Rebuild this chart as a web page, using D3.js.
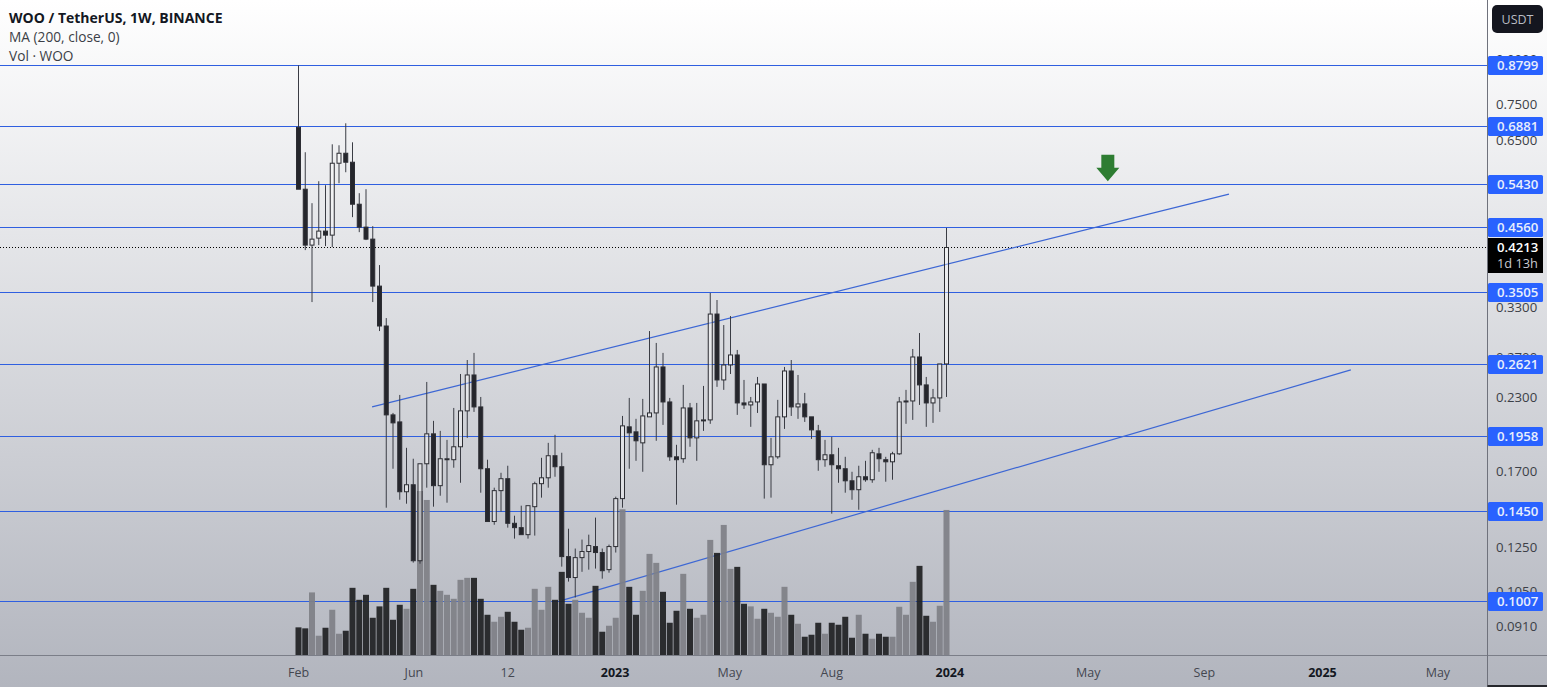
<!DOCTYPE html>
<html>
<head>
<meta charset="utf-8">
<script src="https://cdn.jsdelivr.net/npm/d3@7"></script>
<style>
  html, body { margin: 0; padding: 0; overflow: hidden; background: #fff; }
  text { font-family: "Open Sans", "Noto Sans", sans-serif; }
</style>
</head>
<body>
<div id="chart"></div>
<script>
// weekly WOO/USDT candles, first candle is the week of 14 Feb 2022
const opens = [.6850,.5333,.4254,.4376,.4502,.4429,.5924,.6168,.5948,.5019,.4575,.4358,.3604,.3067,.2141,.2081,.1569,.1614,.1187,.1757,.1983,.1608,.1793,.1786,.1882,.2176,.2516,.2211,.1722,.1391,.1576,.1654,.1381,.1357,.1319,.1477,.1621,.1660,.1815,.1736,.1207,.1109,.1202,.1232,.1257,.1227,.1145,.1257,.1526,.2040,.1999,.1912,.2124,.2158,.2599,.2256,.1807,.1793,.2202,.1951,.2098,.2098,.3219,.2466,.2620,.2728,.2247,.2229,.2256,.2426,.1750,.1807,.2124,.2557,.2211,.2238,.2124,.2007,.1786,.1822,.1743,.1722,.1640,.1582,.1667,.1647,.1829,.1786,.1771,.1829,.2265,.2265,.2706,.2417,.2247,.2293,.2631];
const highs = [.8799,.6193,.5040,.5508,.5420,.6395,.6370,.6962,.6447,.5248,.5333,.4593,.3924,.3167,.2158,.2321,.1874,.1793,.1757,.2446,.2090,.2007,.1935,.2202,.2526,.2673,.2751,.2302,.1786,.1595,.1694,.1743,.1424,.1483,.1483,.1634,.1800,.1912,.1975,.1837,.1351,.1247,.1293,.1319,.1413,.1247,.1267,.1538,.2132,.2293,.2107,.2284,.3005,.2864,.2751,.2293,.1897,.2417,.2247,.2247,.2407,.3505,.3407,.3079,.3193,.2784,.2466,.2302,.2496,.2426,.1951,.2275,.2599,.2673,.2516,.2340,.2124,.2056,.1935,.1959,.1874,.1807,.1701,.1743,.1778,.1859,.1874,.1807,.1844,.2302,.2369,.2795,.2981,.2496,.2378,.2631,.4560];
const lows = [.5333,.4169,.3379,.4254,.4237,.4220,.5464,.5712,.4763,.4483,.4341,.3379,.3005,.1471,.1722,.1519,.1495,.1178,.1173,.1595,.1477,.1544,.1501,.1729,.1627,.1951,.2167,.1563,.1391,.1373,.1448,.1357,.1298,.1319,.1298,.1314,.1532,.1595,.1667,.1159,.1091,.1023,.1135,.1145,.1150,.1104,.1131,.1227,.1471,.1722,.1778,.1701,.2124,.1928,.2056,.1778,.1489,.1764,.1882,.1778,.2007,.2065,.2398,.2369,.2526,.2141,.2193,.2040,.2158,.1526,.1532,.1793,.2023,.2132,.2107,.2081,.1943,.1708,.1736,.1436,.1627,.1563,.1519,.1459,.1634,.1627,.1701,.1634,.1647,.1822,.2065,.2098,.2229,.2040,.2073,.2167,.2302];
const closes = [.5333,.4254,.4358,.4502,.4429,.5924,.6168,.5948,.5019,.4575,.4358,.3604,.3067,.2141,.2073,.1569,.1614,.1187,.1757,.1983,.1608,.1793,.1793,.1882,.2176,.2516,.2211,.1722,.1391,.1576,.1654,.1381,.1357,.1319,.1483,.1621,.1660,.1815,.1736,.1207,.1109,.1202,.1232,.1262,.1227,.1140,.1257,.1526,.2048,.1991,.1928,.2132,.2158,.2599,.2256,.1807,.1786,.2202,.1951,.2090,.2098,.3219,.2466,.2620,.2728,.2247,.2229,.2256,.2426,.1750,.1807,.2124,.2557,.2211,.2238,.2124,.2015,.1786,.1822,.1750,.1722,.1640,.1582,.1667,.1647,.1837,.1793,.1771,.1829,.2256,.2265,.2706,.2417,.2247,.2293,.2631,.4213];
const volumes = [27.7,26.7,62.7,19.3,27.3,45.3,21.3,24.3,67.3,55.3,60.3,37.3,48.7,67.3,35.3,50.3,46.3,66.3,164.3,155.3,70.3,64.3,60.3,56.3,75.3,77.3,77.3,56.3,40.3,33.3,38.3,43.3,33.3,25.3,27.3,66.3,45.3,68.3,55.3,83.3,51.3,55.3,42.3,37.3,69.3,23.3,29.3,37.3,146,68.3,40.3,64.3,101.3,92.3,63.3,32.3,44.3,81.3,46.3,37.3,40.3,115.3,102.3,130.3,86.3,88.3,51.3,48.7,36.3,46.3,42.3,38.3,68.3,40.3,31.3,18.3,20.3,32.3,21.3,32.3,30.3,38.3,17.3,40.3,21.3,16.3,21.3,18.3,18.3,48.3,40.3,73.3,89.3,39.3,33.3,49.3,145.3];

// horizontal levels drawn on the chart
const levels = [0.8799, 0.6881, 0.5430, 0.4560, 0.3505, 0.2621, 0.1958, 0.1450, 0.1007];
const lastPrice = 0.4213;
const countdown = "1d 13h";

// price axis labels, some are hidden under the level tags
const priceTicks = [0.9000, 0.7500, 0.6500, 0.3300, 0.2700, 0.2300, 0.2000, 0.1700, 0.1250, 0.1050, 0.0910];

// time axis, positions are in weeks from the first candle
const timeWeeks = [0, 17.1, 31, 46.9, 63.9, 79, 96.5, 117, 134.2, 151.7, 168.8];
const timeLabels = ["Feb", "Jun", "12", "2023", "May", "Aug", "2024", "May", "Sep", "2025", "May"];
const boldLabels = ["2023", "2024", "2025"];

// trend lines as [week, price] pairs
const upperTrend = [[10.9, 0.2211], [137.85, 0.5227]];
const lowerTrend = [[39.04, 0.1011], [155.9, 0.2568]];
const arrowWeek = 119.9;
const arrowPrices = [0.6130, 0.5508];

const legend = ["WOO / TetherUS, 1W, BINANCE", "MA (200, close, 0)", "Vol \u00b7 WOO"];

const width = 1547, height = 687;
const paneRight = 1487.5, paneBottom = 655.5;

const svg = d3.select("#chart").append("svg")
  .attr("width", width)
  .attr("height", height)
  .style("display", "block");

const grad = svg.append("defs").append("linearGradient")
  .attr("id", "bg").attr("x1", 0).attr("y1", 0).attr("x2", 0).attr("y2", 1);
grad.append("stop").attr("offset", "0%").attr("stop-color", "#ffffff");
grad.append("stop").attr("offset", "100%").attr("stop-color", "#b2b5be");
svg.append("rect").attr("width", width).attr("height", height).attr("fill", "url(#bg)");

const x = d3.scaleLinear().domain([0, 96]).range([298.5, 946.5]);
const y = d3.scaleLog().domain([0.8799, 0.1007]).range([65.4, 601.4]);
const yVol = d3.scaleLinear().domain([0, 164.3]).range([655, 491]);
const levelY = d => Math.round(y(d) - 0.5) + 0.5;

const weeks = d3.range(opens.length);
const up = i => closes[i] >= opens[i];
const bodyTop = i => y(Math.max(opens[i], closes[i]));
const bodyBottom = i => y(Math.min(opens[i], closes[i]));

// levels
svg.append("g").selectAll("line").data(levels).join("line")
  .attr("x1", 0)
  .attr("x2", paneRight)
  .attr("y1", levelY)
  .attr("y2", levelY)
  .attr("stroke", "#2f5fe0")
  .attr("stroke-width", 1.2);

// last price
svg.append("line")
  .attr("x1", 0).attr("x2", paneRight)
  .attr("y1", levelY(lastPrice)).attr("y2", levelY(lastPrice))
  .attr("stroke", "#000").attr("stroke-dasharray", "1 2");

// trend lines
svg.append("g").selectAll("line").data([upperTrend, lowerTrend]).join("line")
  .attr("x1", d => x(d[0][0]))
  .attr("y1", d => y(d[0][1]))
  .attr("x2", d => x(d[1][0]))
  .attr("y2", d => y(d[1][1]))
  .attr("stroke", "#3d67d4")
  .attr("stroke-width", 1.2);

// volume sits over the lines but under the candles
svg.append("g").selectAll("rect").data(weeks).join("rect")
  .attr("x", i => x(i) - 3)
  .attr("y", i => yVol(volumes[i]))
  .attr("width", 6)
  .attr("height", i => 655 - yVol(volumes[i]))
  .attr("fill", i => up(i) ? "#7f8087" : "#202124")
  .attr("fill-opacity", 0.93);

// candles, bodies of up weeks are see-through so the wicks stop at the body
const candles = svg.append("g");
candles.append("g").selectAll("line").data(weeks).join("line")
  .attr("x1", i => x(i))
  .attr("x2", i => x(i))
  .attr("y1", i => y(highs[i]))
  .attr("y2", bodyTop)
  .attr("stroke", "#3a3c44");
candles.append("g").selectAll("line").data(weeks).join("line")
  .attr("x1", i => x(i))
  .attr("x2", i => x(i))
  .attr("y1", bodyBottom)
  .attr("y2", i => y(lows[i]))
  .attr("stroke", "#3a3c44");
candles.append("g").selectAll("rect").data(weeks).join("rect")
  .attr("x", i => x(i) - 2)
  .attr("y", bodyTop)
  .attr("width", 4)
  .attr("height", i => Math.max(1, bodyBottom(i) - bodyTop(i)))
  .attr("fill", i => up(i) ? "#ffffff" : "#25262c")
  .attr("fill-opacity", i => up(i) ? 0.4 : 1)
  .attr("stroke", "#2c2d33")
  .attr("stroke-width", 1);

// green arrow
const ax = x(arrowWeek), ay0 = y(arrowPrices[0]), ay1 = y(arrowPrices[1]);
svg.append("path")
  .attr("d", d3.line()([
    [ax - 6.5, ay0], [ax + 6.5, ay0], [ax + 6.5, ay0 + 13], [ax + 11.5, ay0 + 13],
    [ax, ay1], [ax - 11.5, ay0 + 13], [ax - 6.5, ay0 + 13]
  ]) + "Z")
  .attr("fill", "#2e7d32");

// pane edges
svg.append("line").attr("x1", 0).attr("x2", width).attr("y1", paneBottom).attr("y2", paneBottom).attr("stroke", "#7b7e88");
svg.append("line").attr("x1", paneRight).attr("x2", paneRight).attr("y1", 0).attr("y2", height).attr("stroke", "#6f727c");
svg.append("line").attr("x1", paneRight).attr("x2", width).attr("y1", 686).attr("y2", 686).attr("stroke", "#26272c").attr("stroke-width", 2);

// time axis
svg.append("g").selectAll("text").data(timeWeeks).join("text")
  .attr("x", d => x(d))
  .attr("y", 677)
  .attr("text-anchor", "middle")
  .attr("font-size", 12.5)
  .attr("font-weight", (d, i) => boldLabels.includes(timeLabels[i]) ? 700 : 400)
  .attr("fill", (d, i) => boldLabels.includes(timeLabels[i]) ? "#131722" : "#444750")
  .text((d, i) => timeLabels[i]);

// price axis
svg.append("g").selectAll("text").data(priceTicks).join("text")
  .attr("x", 1496)
  .attr("y", d => y(d) + 4.5)
  .attr("font-size", 13.2)
  .attr("fill", "#3c3f47")
  .text(d => d.toFixed(4));

// level tags
const tags = svg.append("g").selectAll("g").data(levels).join("g")
  .attr("transform", d => `translate(1488,${levelY(d) - 9.5})`);
tags.append("rect").attr("width", 55).attr("height", 19).attr("rx", 1.5).attr("fill", "#2962ff");
tags.append("text").attr("x", 9).attr("y", 14).attr("font-size", 13.2).attr("font-weight", 600)
  .attr("fill", "#e8eefc").text(d => d.toFixed(4));

// last price tag
const lastTag = svg.append("g").attr("transform", `translate(1488,${levelY(lastPrice) - 9.5})`);
lastTag.append("rect").attr("width", 55).attr("height", 35).attr("fill", "#000");
lastTag.append("text").attr("x", 9).attr("y", 14).attr("font-size", 13.2).attr("font-weight", 600).attr("fill", "#fff").text(lastPrice.toFixed(4));
lastTag.append("text").attr("x", 9).attr("y", 30).attr("font-size", 12.8).attr("fill", "#c8cad0").text(countdown);

// currency button
svg.append("rect").attr("x", 1492).attr("y", 5).attr("width", 51).attr("height", 28).attr("rx", 5).attr("fill", "#14161f");
svg.append("text").attr("x", 1517.5).attr("y", 23.5).attr("text-anchor", "middle")
  .attr("font-size", 12.5).attr("fill", "#b9bcc4").text("USDT");

// legend
svg.append("g").selectAll("text").data(legend).join("text")
  .attr("x", 9)
  .attr("y", (d, i) => 23 + i * 19)
  .attr("font-size", (d, i) => i == 0 ? 14 : 13.7)
  .attr("font-weight", (d, i) => i == 0 ? 700 : 400)
  .attr("fill", (d, i) => i == 0 ? "#131722" : "#3c3f47")
  .text(d => d);
</script>
</body>
</html>
